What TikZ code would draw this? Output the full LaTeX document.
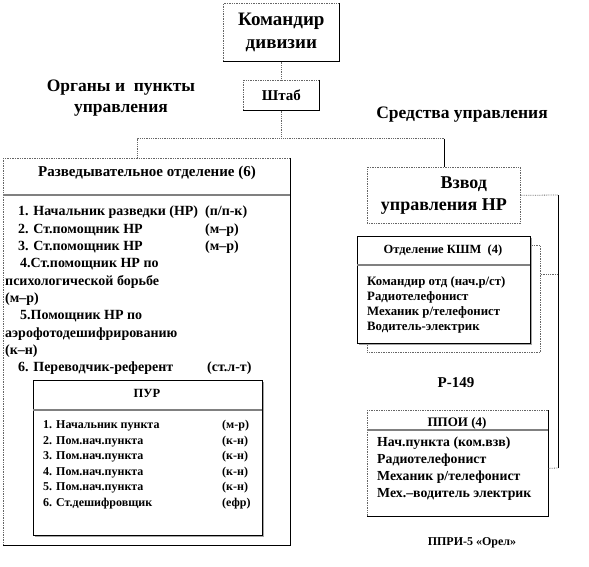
\documentclass[tikz,border=0pt]{standalone}
\usepackage{fontspec}
\setmainfont{Liberation Serif}
\usetikzlibrary{shadows}

\begin{document}
\begin{tikzpicture}[x=1pt,y=-1pt,font=\bfseries,
    box/.style={draw=black!60,densely dotted,line width=0.7pt,anchor=north west,inner sep=0pt,fill=white},
    solidbox/.style={draw=black,solid,line width=0.6pt,anchor=north west,inner sep=0pt,fill=white},
    boxshadow/.style={drop shadow={shadow xshift=2pt,shadow yshift=-2pt,fill=gray!70,opacity=1}},
    edge/.style={draw=black,line width=0.7pt},
    link/.style={draw=black!60,densely dotted,line width=0.8pt},
    rule/.style={draw=gray,line width=1.2pt},
    title/.style={font=\bfseries\fontsize{17.5}{21}\selectfont,align=center},
    list/.style={anchor=north west,align=left,inner sep=0pt}]
    \useasboundingbox (0,0) rectangle (589,567);

    % command and staff
    \node[box,title,font=\bfseries\fontsize{19}{23}\selectfont,
      minimum width=116pt,minimum height=58pt] (cmd) at (223,3) {Командир\\дивизии};
    \node[box,minimum width=76pt,minimum height=30pt,
      font=\bfseries\fontsize{15}{17}\selectfont] (staff) at (243,80) {Штаб};
    \node[title] (organs) at (121,98) {Органы и\enspace пункты\\управления};
    \node[title] (means) at (462,115) {Средства управления};

    % reconnaissance section
    \node[box,minimum width=287pt,minimum height=387pt] (razv) at (3,158) {};
    \node[font=\bfseries\fontsize{15}{17}\selectfont] (razvhead) at (147,173)
      {Разведывательное отделение (6)};
    \draw[rule] (3,195) -- (290,195);
    \node[list,font=\bfseries\fontsize{14}{17.3}\selectfont] (razvlist) at (5,206)
      {\hspace*{13pt}1. Начальник разведки (НР)\enspace(п/п-к)\\
       \hspace*{13pt}\makebox[187pt][l]{2. Ст.помощник НР}(м--р)\\
       \hspace*{13pt}\makebox[187pt][l]{3. Ст.помощник НР}(м--р)\\
       \hspace*{15pt}4.Ст.помощник НР по\\
       психологической борьбе\\
       (м--р)\\
       \hspace*{15pt}5.Помощник НР по\\
       аэрофотодешифрированию\\
       (к--н)\\
       \hspace*{13pt}\makebox[189pt][l]{6. Переводчик-референт}(ст.л-т)};

    % PUR
    \node[solidbox,boxshadow,minimum width=229pt,minimum height=155pt] (pur) at (33,380) {};
    \node[font=\bfseries\fontsize{12.5}{14}\selectfont] (purhead) at (147,393) {ПУР};
    \draw[rule] (33,410) -- (262,410);
    \node[list,font=\bfseries\fontsize{12}{15.6}\selectfont] (purlist) at (43,420)
      {\makebox[179pt][l]{1. Начальник пункта}(м-р)\\
       \makebox[179pt][l]{2. Пом.нач.пункта}(к-н)\\
       \makebox[179pt][l]{3. Пом.нач.пункта}(к-н)\\
       \makebox[179pt][l]{4. Пом.нач.пункта}(к-н)\\
       \makebox[179pt][l]{5. Пом.нач.пункта}(к-н)\\
       \makebox[179pt][l]{6. Ст.дешифровщик}(ефр)};

    % platoon
    \node[box,title,font=\bfseries\fontsize{18}{22}\selectfont,
      minimum width=153pt,minimum height=56pt] (vzvod) at (367,167)
      {\hspace*{40pt}Взвод\\управления НР};

    % KShM squad
    \node[box,minimum width=173pt,minimum height=107pt] (kshmback) at (367,245) {};
    \node[solidbox,boxshadow,minimum width=173pt,minimum height=107pt] (kshm) at (357,236) {};
    \node[font=\bfseries\fontsize{12.5}{14}\selectfont] (kshmhead) at (443,250)
      {Отделение КШМ\enspace(4)};
    \draw[rule] (357,265) -- (530,265);
    \node[list,font=\bfseries\fontsize{12.8}{15.3}\selectfont] (kshmlist) at (367,276)
      {Командир отд (нач.р/ст)\\Радиотелефонист\\Механик р/телефонист\\Водитель-электрик};
    \node[font=\bfseries\fontsize{15}{17}\selectfont] (r149) at (456,383) {Р-149};

    % PPOI
    \node[box,minimum width=181pt,minimum height=106pt] (ppoi) at (367,410) {};
    \node[font=\bfseries\fontsize{13}{15}\selectfont] (ppoihead) at (457,423) {ППОИ (4)};
    \draw[rule] (367,430) -- (548,430);
    \node[list,font=\bfseries\fontsize{13.8}{17}\selectfont] (ppoilist) at (377,437)
      {Нач.пункта (ком.взв)\\Радиотелефонист\\Механик р/телефонист\\Мех.--водитель электрик};
    \node[font=\bfseries\fontsize{12}{14}\selectfont] (ppri) at (472,543) {ППРИ-5 «Орел»};

    % solid right and bottom edges
    \foreach \n in {cmd,staff,razv,ppoi}
      \draw[edge] (\n.north east) -- (\n.south east) -- (\n.south west);

    % connectors
    \draw[link] (cmd.south) -- (staff.north);
    \draw[link] (staff.south) -- ++(0,28) coordinate (fork);
    \draw[link] (fork) -| ([xshift=-9.5pt]razv.north);
    \draw[link] (fork) -- (fork -| vzvod.north);
    \draw[edge] (fork -| vzvod.north) -- (vzvod.north);
    \coordinate (bus) at (558,195);
    \coordinate (busend) at (558,468);
    \draw[link] (vzvod.east) -- (bus);
    \draw[edge] (bus) -- (busend);
    \draw[link] ([yshift=24pt]kshmback.east) -- ([yshift=24pt]kshmback.east -| bus);
    \draw[link] ([yshift=-5pt]ppoi.east) -- (busend);
  \end{tikzpicture}
\end{document}
